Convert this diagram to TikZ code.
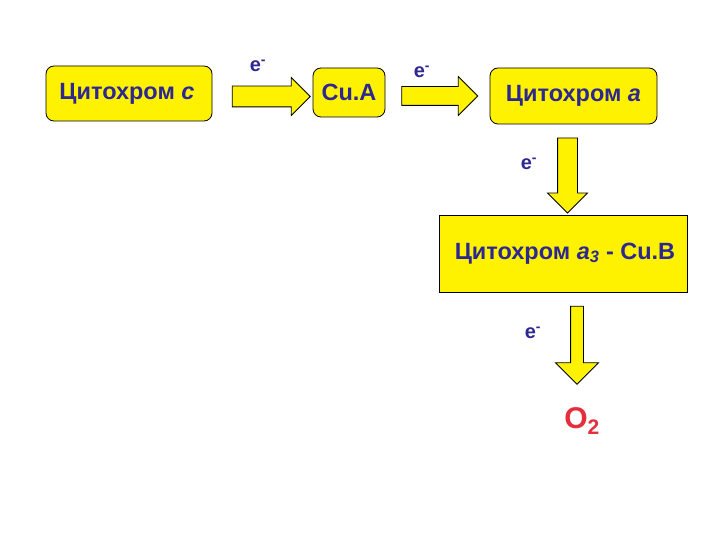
\documentclass[tikz,border=0pt]{standalone}
\usepackage{fontspec}
\setmainfont{Liberation Sans}
\usetikzlibrary{shapes.arrows}
\definecolor{txtblue}{RGB}{45,40,145}
\definecolor{oxred}{RGB}{230,45,60}
\begin{document}
\begin{tikzpicture}[x=1pt,y=-1pt,font=\bfseries,
  box/.style={draw,line width=0.8pt,fill=yellow,text=txtblue,align=center,inner sep=0pt,font=\fontsize{23.5}{28}\selectfont\bfseries},
  rbox/.style={box,rounded corners=8pt},
  barrow/.style={single arrow,draw,line width=0.8pt,fill=yellow,inner xsep=0pt,single arrow head indent=0pt},
  lab/.style={text=txtblue,inner sep=0pt,font=\fontsize{20}{24}\selectfont\bfseries}]
\useasboundingbox[fill=white] (0,0) rectangle (720,540);
% --- boxes ---
\node[rbox,minimum width=166pt,minimum height=55pt] (cytc) at (129,93.5)  {Цитохром \textit{c}\hspace{4pt}};
\node[rbox,minimum width=72pt,minimum height=49pt]  (cua)  at (349,92.5)  {Cu.A};
\node[rbox,minimum width=167pt,minimum height=56pt] (cyta) at (573.5,96)  {Цитохром \textit{a}};
\node[box,minimum width=248pt,minimum height=77pt]  (cyta3)at (563,253.5) {\hspace{4pt}Цитохром \textit{a}\textsubscript{\textit{3}} - Cu.B};
\node[text=oxred,inner sep=0pt,font=\fontsize{30}{34}\selectfont\bfseries] (oxy) at (582,421) {O\textsubscript{2}};
% --- electron transfer arrows ---
\node[barrow,inner ysep=10pt,single arrow head extend=8.5pt,minimum height=78pt] (ar1) at (266,96.5) {};
\node[barrow,inner ysep=9pt,single arrow head extend=10pt,minimum height=76pt]   (ar2) at (435,96) {};
\node[barrow,rotate=-90,inner ysep=9.5pt,single arrow head extend=10pt,minimum height=75pt] (ar3) at (567.5,170.5) {};
\node[barrow,rotate=-90,inner ysep=6pt,single arrow head extend=15pt,minimum height=78pt]   (ar4) at (577,342) {};
% --- electron labels ---
\node[lab] (e1) at (258,66)  {e\textsuperscript{-}};
\node[lab] (e2) at (422,72)  {e\textsuperscript{-}};
\node[lab] (e3) at (529,164) {e\textsuperscript{-}};
\node[lab] (e4) at (533,333) {e\textsuperscript{-}};
\end{tikzpicture}
\end{document}
